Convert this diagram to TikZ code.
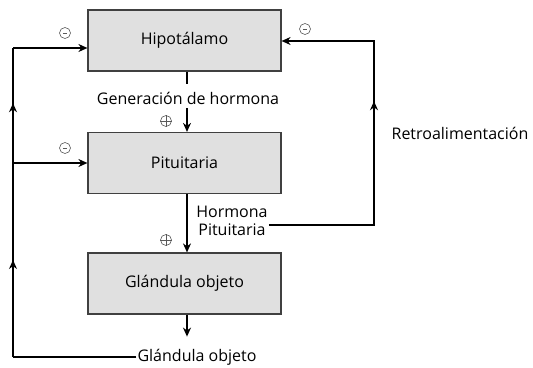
\documentclass[tikz,border=0pt]{standalone}
\usepackage{fontspec}
\setmainfont{Open Sans}
\usetikzlibrary{arrows.meta,decorations.markings}
\begin{document}
\begin{tikzpicture}[x=1pt,y=-1pt,
  box/.style={draw=black!75,line width=1.2pt,fill=black!12,minimum width=193pt,minimum height=61pt,font=\fontsize{16}{19}\selectfont,inner sep=0pt},
  lbl/.style={font=\fontsize{16}{19}\selectfont,inner sep=1pt},
  sgn/.style={circle,draw=black!65,line width=0.6pt,minimum size=11pt,inner sep=0pt},
  conn/.style={line width=1.3pt,-{Stealth[length=9pt,width=8pt]}},
  plain/.style={line width=1.3pt},
  midup/.style={postaction={decorate},decoration={markings,mark=at position #1 with {\arrow{Stealth[length=9pt,width=8pt]}}}}
]
\useasboundingbox (0,0) rectangle (533,367);
\node[box] (hip) at (184.5,40.5) {Hipotálamo};
\node[box] (pit) at (184.5,163) {Pituitaria};
\node[box] (gla) at (184.5,283.5) {Glándula objeto};
\node[lbl] (gen) at (188,98) {Generación de hormona};
\node[lbl,align=center] (hp) at (232,221) {Hormona\\[-1pt]Pituitaria};
\node[lbl] (ret) at (460,133) {Retroalimentación};
\node[lbl] (go) at (197,357) {Glándula objeto};
% connectors
\draw[plain] (hip.south -| 187,0) -- (187,84);
\draw[conn] (187,108) -- (pit.north -| 187,0);
\draw[conn] (pit.south -| 187,0) -- (gla.north -| 187,0);
\draw[conn] (gla.south -| 187,0) -- ++(0,22) coordinate (gout);
\coordinate (lb) at (13,357);
\coordinate (lm) at (13,163);
\coordinate (lt) at (13,48);
\draw[plain] (go.west) -- (lb);
\draw[plain,midup=0.5] (lb) -- (lm);
\draw[plain,midup=0.52] (lm) -- (lt);
\draw[conn] (lm) -- (pit.west);
\draw[conn] (lt) -- (hip.west |- lt);
\coordinate (rb) at (374,225);
\coordinate (rt) at (374,41);
\draw[conn,midup=0.6] (hp.east |- rb) -- (rb) -- (rt) -- (hip.east |- rt);
% signs
\foreach \n/\x/\y in {m1/65/33,m2/65/148,m3/305/29}{
  \node[sgn] (\n) at (\x,\y) {};
  \draw[line width=0.9pt,black!65] ([xshift=-2.2pt]\n.center) -- ([xshift=2.2pt]\n.center);
}
\foreach \n/\x/\y in {p1/166/121,p2/166/240}{
  \node[sgn] (\n) at (\x,\y) {};
  \draw[line width=0.6pt,black!65] (\n.west) -- (\n.east) (\n.north) -- (\n.south);
}
\end{tikzpicture}
\end{document}
